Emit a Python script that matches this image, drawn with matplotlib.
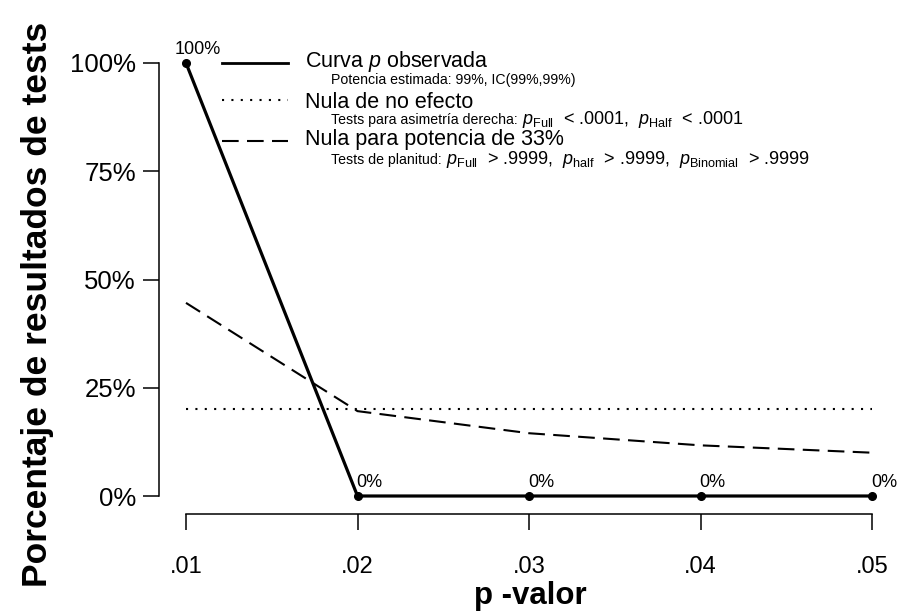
import matplotlib
matplotlib.use("Agg")
import matplotlib.pyplot as plt
from matplotlib.lines import Line2D

plt.rcParams['font.family'] = ['Liberation Sans', 'DejaVu Sans']
plt.rcParams['mathtext.fontset'] = 'custom'
plt.rcParams['mathtext.rm'] = 'Liberation Sans'
plt.rcParams['mathtext.it'] = 'Liberation Sans:italic'

# datos de la curva p
p_values = [.01, .02, .03, .04, .05]
observed = [1.0, 0.0, 0.0, 0.0, 0.0]
null_flat = [0.20, 0.20, 0.20, 0.20, 0.20]
null_33 = [0.446, 0.196, 0.145, 0.117, 0.100]
obs_labels = ["100%", "0%", "0%", "0%", "0%"]

x_ticklabels = [".01", ".02", ".03", ".04", ".05"]
y_ticks = [0, .25, .5, .75, 1]
y_ticklabels = ["0%", "25%", "50%", "75%", "100%"]

legend_main = ["Curva $\\mathit{p}$ observada", "Nula de no efecto", "Nula para potencia de 33%"]
legend_sub = ["Potencia estimada: 99%, IC(99%,99%)",
              "Tests para asimetría derecha: ",
              "Tests de planitud: "]
legend_math = ["",
               "$\\mathit{p}_{\\mathrm{Full}}$  < .0001,  $\\mathit{p}_{\\mathrm{Half}}$  < .0001",
               "$\\mathit{p}_{\\mathrm{Full}}$  > .9999,  $\\mathit{p}_{\\mathrm{half}}$  > .9999,  "
               "$\\mathit{p}_{\\mathrm{Binomial}}$  > .9999"]

W, H = 898, 611
fig = plt.figure(figsize=(W / 100, H / 100), dpi=100)
ax = fig.add_axes([186 / W, 1 - 496 / H, (872 - 186) / W, (496 - 63) / H])
ax.set_xlim(.01, .05)
ax.set_ylim(0, 1)

dotted = (0, (1, 3.5))
dashed = (0, (8, 4))

ax.plot(p_values, null_flat, color='black', lw=1.5, linestyle=dotted, clip_on=False)
ax.plot(p_values, null_33, color='black', lw=1.5, linestyle=dashed, clip_on=False)
ax.plot(p_values, observed, color='black', lw=2.3, marker='o', ms=5.5, clip_on=False, zorder=3)

for x, y, lab in zip(p_values, observed, obs_labels):
    ax.annotate(lab, (x, y), xytext=(8.6, 10), textcoords='offset points',
                ha='center', va='center', fontsize=13)

for s in ['top', 'right']:
    ax.spines[s].set_visible(False)
ax.spines['left'].set_position(('outward', 19.5))
ax.spines['bottom'].set_position(('outward', 13))
ax.spines['left'].set_bounds(0, 1)
ax.spines['bottom'].set_bounds(.01, .05)
for s in ['left', 'bottom']:
    ax.spines[s].set_linewidth(1.1)

ax.set_xticks(p_values)
ax.set_xticklabels(x_ticklabels, fontsize=17)
ax.set_yticks(y_ticks)
ax.set_yticklabels(y_ticklabels, fontsize=18.5)
ax.tick_params(axis='both', direction='out', length=11.5, width=1.1)
ax.tick_params(axis='x', pad=19)
ax.tick_params(axis='y', pad=5)

fig.text(530 / W, 1 - 604 / H, "p -valor", fontsize=22.5, fontweight='bold',
         ha='center', va='baseline')
fig.text(38 / W, 1 - 304 / H, "Porcentaje de resultados de tests", fontsize=25.5,
         fontweight='bold', rotation=90, ha='center', va='center')

# leyenda
styles = ['-', dotted, dashed]
widths = [2.0, 1.5, 1.5]
line_y = [63, 100, 141]
main_y = [61, 103, 139]
sub_base = [84, 124, 164]
renderer = fig.canvas.get_renderer()
for i in range(3):
    ly = line_y[i]
    fig.add_artist(Line2D([222 / W, 288 / W], [1 - ly / H, 1 - ly / H], color='black',
                          lw=widths[i], linestyle=styles[i]))
    fig.text(305 / W, 1 - main_y[i] / H, legend_main[i], fontsize=15.5, ha='left', va='center')
    t = fig.text(331 / W, 1 - sub_base[i] / H, legend_sub[i], fontsize=10.2,
                 ha='left', va='baseline')
    if legend_math[i]:
        bb = t.get_window_extent(renderer)
        fig.text(bb.x1 / W, 1 - sub_base[i] / H, legend_math[i], fontsize=13,
                 ha='left', va='baseline')

fig.savefig("out.png", dpi=100)
